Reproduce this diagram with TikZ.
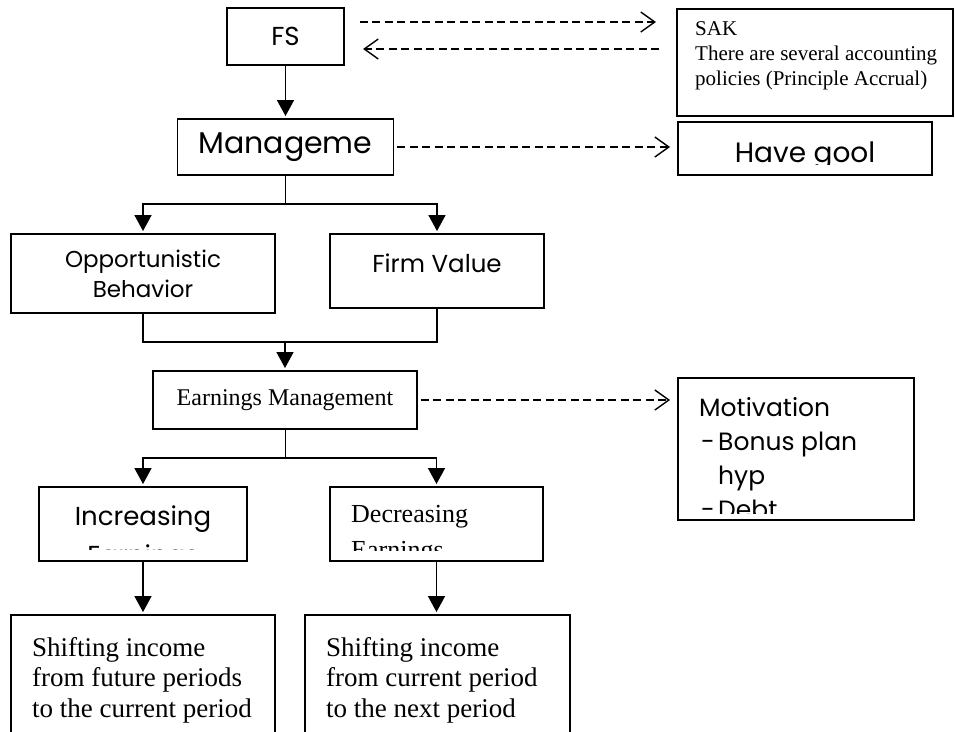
\documentclass[tikz,border=0pt]{standalone}
\usepackage{fontspec}
\setmainfont{Liberation Serif}
\newfontfamily\gothic{Poppins}
\newcommand\gothicsize[2]{\gothic\fontsize{#1}{#2}\selectfont}
\newcommand\serifsize[2]{\fontsize{#1}{#2}\selectfont}
\usetikzlibrary{arrows.meta}

\begin{document}
\begin{tikzpicture}[x=1pt, y=-1pt,
  box/.style={draw, line width=1.9pt, inner sep=0pt},
  flow/.style={line width=1.4pt, -{Triangle[width=17pt,length=16pt]}, shorten >=2pt},
  link/.style={line width=1.4pt},
  stem/.style={line width=1pt},
  dasharrow/.style={line width=1.3pt, dash pattern=on 8pt off 4.5pt,
    -{Straight Barb[length=14pt,width=20pt,line width=1.4pt]}}]
  \useasboundingbox (0,0) rectangle (955,731);
  \clip (0,0) rectangle (955,731);

  \node[box, minimum width=117pt, minimum height=57pt, font=\gothicsize{26}{30}] (fs) at (285.5,36.5) {FS};
  \node[box, minimum width=276pt, minimum height=107pt] (sak) at (815,62.5) {};
  \node[anchor=north west, inner sep=0pt, align=left, font=\serifsize{21}{25}] (saktext) at (695,21)
    {SAK\\There are several accounting\\policies (Principle Accrual)};

  \node[box, minimum width=216pt, minimum height=56pt, font=\gothicsize{30}{36}] (mgmt) at (285.5,147) {Manageme};
  \node[box, minimum width=254pt, minimum height=53pt] (goal) at (805,148.5) {};
  \begin{scope}
    \clip (goal.north west) rectangle (932,164);
    \node[anchor=base, inner sep=0pt, font=\gothicsize{28}{34}] (goaltext) at (805,162) {Have gool};
  \end{scope}

  \node[box, minimum width=264pt, minimum height=79pt, align=center, font=\gothicsize{23}{30}] (opp) at (143,273.5)
    {Opportunistic\\Behavior};
  \node[box, minimum width=214pt, minimum height=74pt, text depth=16pt, font=\gothicsize{24.5}{30}] (firm) at (437,271) {Firm Value};

  \node[box, minimum width=264pt, minimum height=58pt, font=\serifsize{24}{28}] (em) at (285,400) {Earnings Management};
  \node[box, minimum width=236pt, minimum height=142pt] (motiv) at (796,449) {};
  \begin{scope}
    \clip (motiv.north west) rectangle (914,513);
    \node[anchor=north west, inner sep=0pt, align=left, font=\gothicsize{25}{34}] (motivtext) at (699,397)
      {Motivation\\\hspace*{2pt}\makebox[17pt][l]{-}Bonus plan\\\hspace*{19pt}hyp\\\hspace*{2pt}\makebox[17pt][l]{-}Debt};
  \end{scope}

  \node[box, minimum width=208pt, minimum height=74pt] (inc) at (143,524) {};
  \begin{scope}
    \clip (inc.north west) rectangle (247,549);
    \node[anchor=north, inner sep=0pt, align=center, font=\gothicsize{26}{39}] (inctext) at (143,506) {Increasing\\Earnings};
  \end{scope}
  \node[box, minimum width=213pt, minimum height=74pt] (dec) at (436.5,524) {};
  \begin{scope}
    \clip (dec.north west) rectangle (543,550);
    \node[anchor=north west, inner sep=0pt, align=left, font=\serifsize{26}{36}] (dectext) at (351,505) {Decreasing\\Earnings};
  \end{scope}

  \node[box, minimum width=264pt, minimum height=130pt] (shl) at (143,680) {};
  \node[box, minimum width=265pt, minimum height=130pt] (shr) at (437.5,680) {};
  \begin{scope}
    \clip (0,615) rectangle (955,722);
    \node[anchor=north west, inner sep=0pt, align=left, font=\serifsize{27}{30.5}] (shltext) at (32,637)
      {Shifting income\\from future periods\\to the current period};
    \node[anchor=north west, inner sep=0pt, align=left, font=\serifsize{27}{30.5}] (shrtext) at (326,637)
      {Shifting income\\from current period\\to the next period};
  \end{scope}

  \draw[dasharrow] ([shift={(15,-14.5)}]fs.east) -- ++(296,0);
  \draw[dasharrow] ([shift={(-17,-13.5)}]sak.west) -- ++(-296,0);
  \draw[dasharrow, shorten <=3pt, shorten >=7pt] (mgmt.east) -- (mgmt.east -| goal.west);
  \draw[dasharrow, shorten <=3pt, shorten >=7pt] (em.east) -- (em.east -| motiv.west);

  \draw[flow] (fs.south) -- (fs.south |- mgmt.north);
  \draw[stem] (mgmt.south) -- ++(0,28) coordinate (split1);
  \draw[flow] (split1) -| (opp.north);
  \draw[flow] (split1) -| (firm.north);
  \coordinate (join1) at (285,342);
  \draw[link] (opp.south) |- (join1) -| (firm.south);
  \draw[flow] (join1) -- (em.north);
  \draw[stem] (em.south) -- ++(0,28) coordinate (split2);
  \draw[flow] (split2) -| (inc.north);
  \draw[flow] (split2) -| (dec.north);
  \draw[flow] (inc.south) -- (inc.south |- shl.north);
  \draw[flow] (dec.south) -- (dec.south |- shr.north);
\end{tikzpicture}
\end{document}
